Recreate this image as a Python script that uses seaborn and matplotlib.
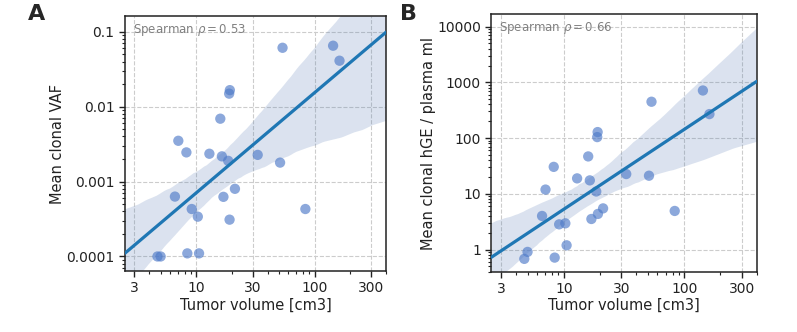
import numpy as np
import pandas as pd
import matplotlib
matplotlib.use("Agg")
import matplotlib.pyplot as plt
import seaborn as sns

# ---- data ----
volume = [4.7, 5.0, 6.6, 7.05, 8.25, 8.4, 9.15, 10.3, 10.55, 12.9, 15.95, 16.45,
          16.95, 18.6, 18.95, 19.1, 19.2, 21.2, 33.0, 51.0, 53.5, 83.4, 143.0, 162.0]
vaf = [1.0e-4, 1.0e-4, 6.3e-4, 3.5e-3, 2.45e-3, 1.1e-4, 4.3e-4, 3.4e-4, 1.1e-4,
       2.35e-3, 6.9e-3, 2.17e-3, 6.25e-4, 1.89e-3, 0.0149, 3.1e-4, 0.0166, 8.0e-4,
       2.27e-3, 1.79e-3, 0.061, 4.3e-4, 0.065, 0.041]
hge = [0.68, 0.906, 4.0, 11.9, 30.4, 0.716, 2.83, 2.95, 1.19, 18.9, 46.8, 17.4,
       3.53, 11.0, 104.0, 128.0, 4.35, 5.47, 22.6, 21.1, 448.0, 4.92, 713.0, 269.0]

x_ticks = [3, 10, 30, 100, 300]
x_ticklabels = ["3", "10", "30", "100", "300"]
a_ticks = [0.0001, 0.001, 0.01, 0.1]
a_ticklabels = ["0.0001", "0.001", "0.01", "0.1"]
b_ticks = [1, 10, 100, 1000, 10000]
b_ticklabels = ["1", "10", "100", "1000", "10000"]
rho_a = 0.53
rho_b = 0.66

df = pd.DataFrame({"lv": np.log10(volume), "lvaf": np.log10(vaf), "lhge": np.log10(hge)})

sns.set_style("ticks")
plt.rcParams["font.family"] = ["DejaVu Sans"]

fig = plt.figure(figsize=(7.97, 3.32), dpi=100)
axA = fig.add_axes([125 / 797, 1 - 271 / 332, 261 / 797, 255 / 332])
axB = fig.add_axes([491.3 / 797, 1 - 271.7 / 332, 265.4 / 797, 257.4 / 332])

pt_color = "#4e7ac8"
line_color = "#1f77b4"
band_color = (76 / 255, 114 / 255, 176 / 255, 0.2)

XLIM = (np.log10(2.5), np.log10(400))


def minor_positions(lo_dec, hi_dec, skip=()):
    out = []
    for d in range(lo_dec, hi_dec + 1):
        for m in range(2, 10):
            v = m * 10.0 ** d
            if any(abs(v - s) / s < 1e-9 for s in skip):
                continue
            out.append(np.log10(v))
    return out


def style(ax, ycol, yticks, yticklabels, ylim, ylabel, rho):
    ylim_l = (np.log10(ylim[0]), np.log10(ylim[1]))
    ax.set_xlim(*XLIM)
    ax.set_ylim(*ylim_l)
    sns.regplot(data=df, x="lv", y=ycol, ax=ax, truncate=False, ci=95, seed=3,
                n_boot=1000,
                scatter_kws=dict(s=55, alpha=0.65, color=pt_color, edgecolor="none", zorder=3),
                line_kws=dict(color=line_color, lw=2.3, zorder=4))
    # recolour the confidence band
    for coll in ax.collections[1:]:
        coll.set_alpha(None)
        coll.set_facecolor(band_color)
        coll.set_edgecolor("none")
    ax.set_xticks(np.log10(x_ticks))
    ax.set_xticklabels(x_ticklabels)
    ax.set_xticks(minor_positions(0, 2, skip=x_ticks), minor=True)
    ax.set_yticks(np.log10(yticks))
    ax.set_yticklabels(yticklabels)
    ax.set_yticks(minor_positions(int(np.floor(np.log10(ylim[0]))),
                                  int(np.floor(np.log10(ylim[1])))), minor=True)
    ax.tick_params(axis="both", which="major", length=4.5, width=1, labelsize=10,
                   direction="out", colors="#222222", pad=3)
    ax.tick_params(axis="both", which="minor", length=2.5, width=0.8, direction="out",
                   colors="#222222")
    ax.grid(True, which="major", ls="--", lw=0.8, color="#cccccc")
    ax.set_axisbelow(True)
    for sp in ax.spines.values():
        sp.set_visible(True)
        sp.set_color("#222222")
        sp.set_linewidth(1.1)
    ax.set_xlabel("Tumor volume [cm3]", fontsize=10.5, color="#222222", labelpad=1.5)
    ax.set_ylabel(ylabel, fontsize=10.5, color="#222222", labelpad=1)
    ax.text(0.03, 0.945, r"Spearman $\rho = %.2f$" % rho, transform=ax.transAxes,
            ha="left", va="center", fontsize=8.5, color="#808080")
    ax.set_xlim(*XLIM)
    ax.set_ylim(*ylim_l)


style(axA, "lvaf", a_ticks, a_ticklabels, (6.4e-5, 0.162), "Mean clonal VAF", rho_a)
style(axB, "lhge", b_ticks, b_ticklabels, (0.4, 16600), "Mean clonal hGE / plasma ml", rho_b)

fig.text(37 / 797, 1 - 14 / 332, "A", fontsize=16, fontweight="bold", ha="center", va="center")
fig.text(408 / 797, 1 - 14 / 332, "B", fontsize=16, fontweight="bold", ha="center", va="center")

fig.savefig("out.png", dpi=100)
